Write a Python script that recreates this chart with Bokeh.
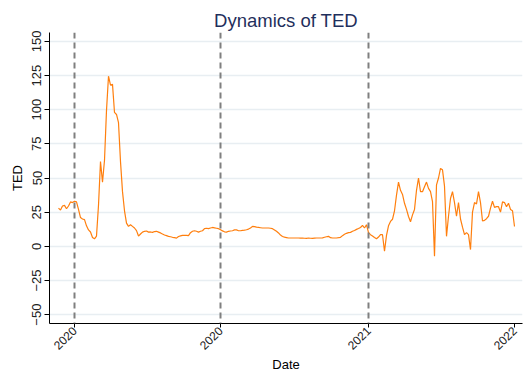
import math

from bokeh.plotting import figure
from bokeh.models import Span, Range1d, FixedTicker
from bokeh.embed import file_html
from bokeh.resources import INLINE

# TED spread readings, one per observation
ted = [
    28, 26.5, 29.5, 30, 27.5, 29.5, 32.5, 32, 33, 32.5,
    27, 21, 20, 19.5, 15, 12, 10.5, 6.5, 5.5, 7.5,
    30, 62, 47, 63, 99.5, 124.5, 118, 118.5, 98, 96.5,
    90.5, 62, 40, 26, 17, 14.6, 15.8, 14.6, 13.4, 11.5,
    7.5, 9, 10.4, 11, 11.2, 10.4, 10.5, 10.2, 10.8, 11,
    10.4, 9.8, 9, 8.3, 7.8, 7.3, 7, 6.6, 6.3, 6,
    7.2, 7.6, 8, 8, 8, 7.8, 10, 11, 11.4, 11,
    10.4, 11, 11.4, 13, 13.2, 12.9, 13.4, 13.8, 13.5, 13.2,
    12.9, 12.2, 11.3, 10.6, 10.4, 11, 11.2, 11.4, 12, 12,
    11.4, 11.4, 11.6, 11.8, 12.1, 12.6, 13.4, 14.6, 14.4, 14,
    13.8, 13.6, 13.4, 13.4, 13.4, 13.4, 13.2, 12.9, 12, 11,
    9.8, 8.2, 7.2, 6.7, 6.4, 6.1, 6.1, 6.1, 6.1, 6.1,
    6.1, 6, 6.1, 5.9, 5.8, 6.1, 5.9, 5.8, 6, 6.1,
    6.1, 6.1, 6.2, 6.6, 7, 7.3, 6.3, 6.1, 6.1, 6.1,
    6.3, 6.6, 7.8, 8.8, 9.5, 10, 10.2, 11, 11.6, 12.4,
    13, 13.8, 15.3, 13.4, 15.8, 10, 8.5, 7.6, 6.5, 5.5,
    6.8, 8.5, 8.5, -3.6, 8, 15, 18.2, 19.8, 26, 37.5,
    47, 41, 38, 31.5, 27, 21.8, 18, 23, 27, 41,
    50, 40, 40, 43.6, 47, 42.4, 40, 32.7, -7.3, 45,
    50, 57, 56, 44, 7.3, 22, 35, 40, 32, 22,
    32, 20, 14, 8.5, 10, 8.5, -2.4, 25, 32, 31,
    40, 32, 18.5, 19, 20.2, 22, 28, 33, 28.5, 29,
    29, 25, 32.5, 32, 29, 31.5, 27, 26, 14.5,
]
obs = list(range(len(ted)))

# date axis ticks (observation number -> year label)
tick_obs = [8, 81, 155, 228]
tick_labels = ["2020", "2020", "2021", "2022"]
# dashed reference lines at the first three date ticks
marker_obs = tick_obs[:3]

y_ticks = [-50, -25, 0, 25, 50, 75, 100, 125, 150]

FONT = "Liberation Sans"

p = figure(
    width=531, height=374,
    output_backend="svg", toolbar_location=None,
    x_range=Range1d(-4.5, 232), y_range=Range1d(-56.5, 156.5),
    min_border_left=49, min_border_right=9,
    min_border_top=32, min_border_bottom=50,
    title="Dynamics of TED",
)

p.background_fill_color = "white"
p.border_fill_color = "white"
p.outline_line_color = None

p.title.align = "center"
p.title.text_font = FONT
p.title.text_font_size = "18.5px"
p.title.text_font_style = "normal"
p.title.text_color = "#1f2f5c"
p.title.standoff = 4

# grid: horizontal only
p.xgrid.grid_line_color = None
p.ygrid.grid_line_color = "#e8eef2"
p.ygrid.grid_line_width = 1.5

# y axis
p.yaxis.ticker = FixedTicker(ticks=y_ticks)
p.yaxis.major_label_orientation = "vertical"
p.yaxis.axis_label = "TED"
p.yaxis.minor_tick_line_color = None
p.yaxis.major_tick_out = 5
p.yaxis.major_tick_in = 0
p.yaxis.major_label_standoff = 3
p.yaxis.axis_label_standoff = 5
p.yaxis.major_label_text_font_size = "13px"

# x axis
p.xaxis.ticker = FixedTicker(ticks=tick_obs)
p.xaxis.major_label_overrides = {t: lab for t, lab in zip(tick_obs, tick_labels)}
p.xaxis.major_label_orientation = math.pi / 4
p.xaxis.axis_label = "Date"
p.xaxis.minor_tick_line_color = None
p.xaxis.major_tick_out = 4
p.xaxis.major_tick_in = 0
p.xaxis.major_label_standoff = 1
p.xaxis.axis_label_standoff = 0
p.xaxis.major_label_text_font_size = "12px"

for ax in (p.xaxis, p.yaxis):
    ax.axis_line_color = "black"
    ax.axis_line_width = 1
    ax.major_tick_line_color = "black"
    ax.major_label_text_font = FONT
    ax.major_label_text_color = "#222222"
    ax.axis_label_text_font = FONT
    ax.axis_label_text_font_size = "13px"
    ax.axis_label_text_font_style = "normal"
    ax.axis_label_text_color = "black"

p.line(obs, ted, line_color="#ff7f0e", line_width=1.2)

for loc in marker_obs:
    p.add_layout(Span(location=loc, dimension="height", line_color="#7f7f7f",
                      line_width=2, line_dash="6 4"))

open("out.html", "w").write(file_html(p, INLINE))
